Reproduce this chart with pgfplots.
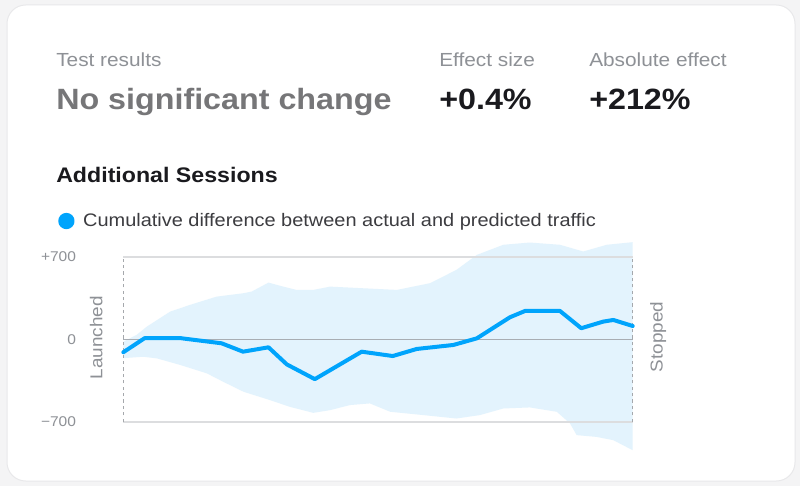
\documentclass[border=0pt]{standalone}
\usepackage{fontspec}
\setmainfont[FakeStretch=1.1]{Liberation Sans}
\usepackage{pgfplots}
\pgfplotsset{compat=1.18}

\definecolor{PageBg}{RGB}{244,244,245}
\definecolor{CardEdge}{RGB}{232,232,234}
\definecolor{LineBlue}{RGB}{0,164,252}
\definecolor{BandBlue}{RGB}{227,243,253}
\definecolor{SoftGray}{RGB}{142,145,150}
\definecolor{MidGray}{RGB}{118,118,120}
\definecolor{Ink}{RGB}{26,26,30}
\definecolor{GridLight}{RGB}{220,221,223}
\definecolor{ZeroLine}{RGB}{168,173,179}
\definecolor{DashGray}{RGB}{165,168,172}

\pgfplotstableread{
x     y
0    -110
4.2    10
11.2   10
19.3  -34
23.5 -105
28.5  -68
32.1 -213
37.6 -338
46.8 -105
52.9 -142
57.6  -82
64.8  -48
69.4    8
75.9  187
78.9  241
85.7  241
89.9   94
94.2  150
96.2  164
100   113
}\diffdata

% upper edge left to right, then lower edge right to left
\pgfplotstableread{
x     y
0     -20
2.6    37
4.6   107
9.2   235
13.1  292
18.3  362
23.6  391
25.2  405
28.5  481
31.4  447
34.0  419
37.3  419
40.6  447
47.1  433
53.7  419
60.2  476
65.4  589
69.4  716
74.6  802
79.8  821
85.7  802
90.3  745
94.9  802
100   824
100  -941
96.2 -856
92.9 -828
89.0 -813
87.7 -714
85.1 -615
79.8 -578
74.6 -587
70.0 -643
65.4 -672
58.9 -643
52.4 -615
48.4 -544
44.5 -558
40.6 -601
37.3 -624
32.7 -573
28.8 -516
23.6 -445
19.6 -360
16.4 -289
11.2 -218
6.6  -162
3.9  -148
0    -160
}\banddata

\begin{document}
\begin{tikzpicture}[x=0.75pt,y=0.75pt]
% page and card
\fill[PageBg] (0,0) rectangle (800,486);
\draw[CardEdge, fill=white, rounded corners=14pt, line width=0.75pt] (7,5) rectangle (795,481);

% header texts
\node[anchor=base west, inner sep=0, text=SoftGray, font=\fontsize{14.2}{16}\selectfont] at (56,419) {Test results};
\node[anchor=base west, inner sep=0, text=MidGray, font=\fontsize{22}{26}\selectfont\bfseries] at (56,376) {No significant change};
\node[anchor=base west, inner sep=0, text=SoftGray, font=\fontsize{14.2}{16}\selectfont] at (439,419) {Effect size};
\node[anchor=base west, inner sep=0, text=SoftGray, font=\fontsize{14.2}{16}\selectfont] at (589,419) {Absolute effect};
\node[anchor=base west, inner sep=0, text=Ink, font=\fontsize{22}{26}\selectfont\bfseries] at (439,376) {+0.4\%};
\node[anchor=base west, inner sep=0, text=Ink, font=\fontsize{22}{26}\selectfont\bfseries] at (589,376) {+212\%};
\node[anchor=base west, inner sep=0, text=Ink, font=\fontsize{15.8}{18}\selectfont\bfseries] at (56,303) {Additional Sessions};

\begin{axis}[
    at={(92.475pt,110.025pt)}, anchor=origin,
    x=3.8205pt, y=0.08839pt,
    xmin=0, xmax=100, ymin=-1000, ymax=900,
    clip=false,
    axis lines=left, axis line style={draw=none},
    xtick=\empty,
    ytick={-700,0,700},
    yticklabels={−700,0,+700},
    major tick length=0pt,
    yticklabel style={anchor=east, inner sep=0pt, xshift=-35.25pt,
        text=SoftGray, font=\fontsize{10.6}{12}\selectfont},
    legend style={at={(axis description cs:-0.1282,1.0545)}, anchor=west,
        draw=none, fill=none, inner sep=0pt,
        font=\fontsize{13.6}{16}\selectfont, text=Ink!85,
        nodes={inner xsep=6.5pt}},
    legend cell align=left,
  ]
  \addplot[draw=none, fill=BandBlue, forget plot] table {\banddata} -- cycle;
  \addplot[GridLight, line width=1.1pt, forget plot] coordinates {(0,700) (100,700)};
  \addplot[GridLight, line width=1.1pt, forget plot] coordinates {(0,-700) (100,-700)};
  \addplot[ZeroLine, line width=1.1pt, forget plot] coordinates {(0,0) (100,0)};
  \addplot[DashGray, line width=0.8pt, dash pattern=on 2.4pt off 2.4pt, forget plot] coordinates {(0,-700) (0,700)};
  \addplot[DashGray, line width=0.8pt, dash pattern=on 2.4pt off 2.4pt, forget plot] coordinates {(100,-700) (100,700)};
  \addplot[LineBlue, line width=3pt, line join=round, line cap=round,
      legend image code/.code={\fill[LineBlue] (0pt,0pt) circle (4.6pt);}]
      table {\diffdata};
  \addlegendentry{Cumulative difference between actual and predicted traffic}
  \node[rotate=90, text=SoftGray, font=\fontsize{12.9}{15}\selectfont] at (axis cs:-5.3,15) {Launched};
  \node[rotate=90, text=SoftGray, font=\fontsize{12.9}{15}\selectfont] at (axis cs:105,20) {Stopped};
\end{axis}
\end{tikzpicture}
\end{document}
